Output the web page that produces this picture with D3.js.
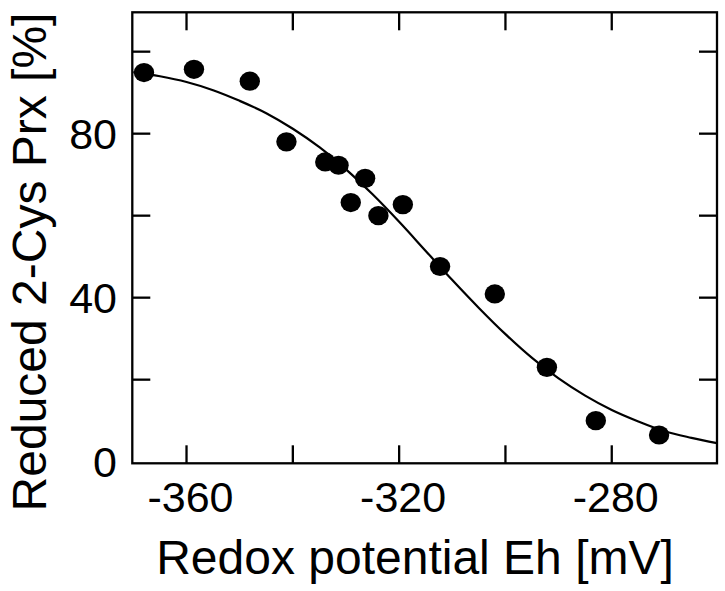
<!DOCTYPE html>
<html>
<head>
<meta charset="utf-8">
<script src="https://cdn.jsdelivr.net/npm/d3@7"></script>
<style>
  html, body { margin: 0; padding: 0; background: #fff; }
  svg { display: block; }
  text { font-family: "Liberation Sans", Arial, Helvetica, sans-serif; fill: #000; }
</style>
</head>
<body>
<svg id="chart" width="725" height="591"></svg>
<script>
// Measured points: redox potential (mV) and reduced 2-Cys Prx (%)
const pointEh = [-368.0, -358.6, -348.1, -341.2, -333.9, -331.4, -326.4, -329.1, -323.9, -319.3, -312.3, -302.0, -292.2, -283.0, -271.1];
const pointReduced = [94.9, 95.7, 92.8, 78.0, 73.1, 72.3, 69.1, 63.2, 60.0, 62.7, 47.6, 40.9, 23.0, 10.0, 6.5];

// Fitted curve
const curveEh = [-370, -365, -360, -355, -350, -345, -340, -335, -330, -325, -320, -315, -310, -305, -300, -295, -290, -285, -280, -275, -270, -265, -260.2];
const curveReduced = [95.0, 94.0, 92.6, 90.6, 88.0, 85.0, 81.2, 76.7, 71.3, 65.2, 58.5, 51.4, 44.3, 37.5, 31.1, 25.3, 20.3, 16.1, 12.6, 9.8, 7.4, 5.8, 4.5];

// Axes
const xDomain = [-370.2, -260.2];
const yDomain = [-0.4, 109.6];
const xTicks = [-360, -340, -320, -300, -280];
const xTickLabels = [-360, -320, -280];
const yTicks = [20, 40, 60, 80, 100];
const yTickLabels = [0, 40, 80];
const xTitle = "Redox potential Eh [mV]";
const yTitle = "Reduced 2-Cys Prx [%]";

const svg = d3.select("#chart");
const pL = 132.3, pR = 717, pT = 12.3, pB = 463.3;

const x = d3.scaleLinear().domain(xDomain).range([pL, pR]);
const y = d3.scaleLinear().domain(yDomain).range([pB, pT]);

const tickLen = 18;
const sw = 2.3;

// Inner ticks (all four sides)
const tg = svg.append("g").attr("stroke", "#000").attr("stroke-width", sw);
xTicks.forEach(v => {
  tg.append("line").attr("x1", x(v)).attr("x2", x(v)).attr("y1", pB).attr("y2", pB - tickLen);
  tg.append("line").attr("x1", x(v)).attr("x2", x(v)).attr("y1", pT).attr("y2", pT + tickLen);
});
yTicks.forEach(v => {
  tg.append("line").attr("x1", pL).attr("x2", pL + tickLen).attr("y1", y(v)).attr("y2", y(v));
  tg.append("line").attr("x1", pR).attr("x2", pR - tickLen).attr("y1", y(v)).attr("y2", y(v));
});

// Frame
svg.append("rect")
  .attr("x", pL).attr("y", pT)
  .attr("width", pR - pL).attr("height", pB - pT)
  .attr("fill", "none").attr("stroke", "#000").attr("stroke-width", sw);

// Tick labels
svg.append("g").selectAll("text").data(xTickLabels).join("text")
  .attr("x", d => x(d) + 4)
  .attr("y", 512)
  .attr("text-anchor", "middle")
  .attr("font-size", 43)
  .text(d => d);

svg.append("g").selectAll("text").data(yTickLabels).join("text")
  .attr("x", 117)
  .attr("y", d => y(d) + 15)
  .attr("text-anchor", "end")
  .attr("font-size", 43)
  .text(d => d);

// Axis titles
svg.append("text")
  .attr("x", 415).attr("y", 574)
  .attr("text-anchor", "middle")
  .attr("font-size", 48)
  .text(xTitle);

svg.append("text")
  .attr("transform", "translate(46,262) rotate(-90)")
  .attr("text-anchor", "middle")
  .attr("font-size", 48)
  .text(yTitle);

// Fitted curve
const curveData = curveEh.map((e, i) => ({ e, r: curveReduced[i] }));
svg.append("path")
  .datum(curveData)
  .attr("fill", "none")
  .attr("stroke", "#000")
  .attr("stroke-width", 2.2)
  .attr("d", d3.line().x(d => x(d.e)).y(d => y(d.r)).curve(d3.curveMonotoneX));

// Points
const pts = pointEh.map((e, i) => ({ e, r: pointReduced[i] }));
svg.append("g").selectAll("ellipse").data(pts).join("ellipse")
  .attr("cx", d => x(d.e))
  .attr("cy", d => y(d.r))
  .attr("rx", 10.2)
  .attr("ry", 9.6)
  .attr("fill", "#000");
</script>
</body>
</html>
